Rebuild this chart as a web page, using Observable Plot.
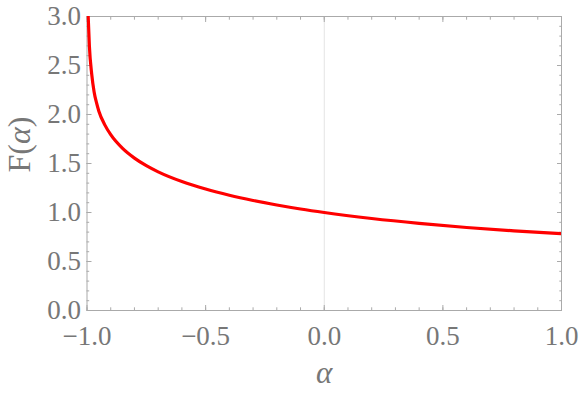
<!DOCTYPE html>
<html><head><meta charset="utf-8">
<script src="https://cdn.jsdelivr.net/npm/d3@7"></script>
<script src="https://cdn.jsdelivr.net/npm/@observablehq/plot@0.6"></script>
<style>body{margin:0;background:#fff}</style>
</head><body><div id="chart"></div>
<script>
// values read (estimated) from the reference curve
const alphaValues = [-0.995, -0.99, -0.98, -0.97, -0.96, -0.95, -0.925, -0.9, -0.85, -0.8, -0.75, -0.7, -0.6, -0.5, -0.4, -0.3, -0.2, -0.1, 0, 0.2, 0.4, 0.6, 0.8, 1.0];
const FValues     = [3.0,    2.70,  2.41,  2.23,  2.12,  2.034, 1.894,  1.794, 1.654, 1.555, 1.478, 1.415, 1.316, 1.239, 1.176, 1.123, 1.077, 1.036, 1.0, 0.939, 0.889, 0.847, 0.813, 0.785];
const xTicks = [-1, -0.5, 0, 0.5, 1];
const yTicks = [0, 0.5, 1, 1.5, 2, 2.5, 3];
const xMinor = d3.ticks(-1, 1, 20);
const yMinor = d3.ticks(0, 3, 30);
const zeroLine = [0];
const xLabel = "α";
const yLabel = "F(α)";

const data = alphaValues.map((a, i) => ({a, f: FValues[i]}));
const fmt = d => d.toFixed(1).replace("-", "\u2212");
const frameColor = "#aaaaaa";
const labelColor = "#777777";
const noText = () => "";

const common = {stroke: frameColor, fill: labelColor, label: null};

const chart = Plot.plot({
  width: 581, height: 396,
  marginLeft: 86.5, marginRight: 20, marginTop: 16, marginBottom: 86,
  style: {fontFamily: "'Liberation Serif', serif", background: "#fff"},
  x: {domain: [-1, 1]},
  y: {domain: [0, 3]},
  marks: [
    Plot.ruleX(zeroLine, {stroke: "#e4e4e4", strokeWidth: 1}),
    Plot.axisX(xTicks, {...common, anchor: "bottom", tickSize: -5, tickPadding: 20, tickFormat: fmt, fontSize: 27}),
    Plot.axisX(xMinor, {...common, anchor: "bottom", tickSize: -2.7, tickFormat: noText}),
    Plot.axisX(xTicks, {...common, anchor: "top", tickSize: -5, tickFormat: noText}),
    Plot.axisX(xMinor, {...common, anchor: "top", tickSize: -2.7, tickFormat: noText}),
    Plot.axisY(yTicks, {...common, anchor: "left", tickSize: -5, tickPadding: 11, tickFormat: fmt, fontSize: 27}),
    Plot.axisY(yMinor, {...common, anchor: "left", tickSize: -2.7, tickFormat: noText}),
    Plot.axisY(yTicks, {...common, anchor: "right", tickSize: -5, tickFormat: noText}),
    Plot.axisY(yMinor, {...common, anchor: "right", tickSize: -2.7, tickFormat: noText}),
    Plot.frame({stroke: frameColor}),
    Plot.line(data, {x: "a", y: "f", stroke: "#ff0000", strokeWidth: 3.2, curve: "monotone-x", clip: true}),
    Plot.text([xLabel], {frameAnchor: "bottom", dy: 72, fontSize: 31, fontStyle: "italic", fill: labelColor}),
    Plot.text([yLabel], {frameAnchor: "left", dx: -67, dy: 9, rotate: -90, fontSize: 32, fill: labelColor})
  ]
});

d3.select(chart).selectAll("text").each(function() {
  if (this.textContent === yLabel) {
    const t = d3.select(this);
    t.text("");
    t.append("tspan").text("F(");
    t.append("tspan").attr("font-style", "italic").text("α");
    t.append("tspan").text(")");
  }
});

document.getElementById("chart").appendChild(chart);
</script>
</body></html>
